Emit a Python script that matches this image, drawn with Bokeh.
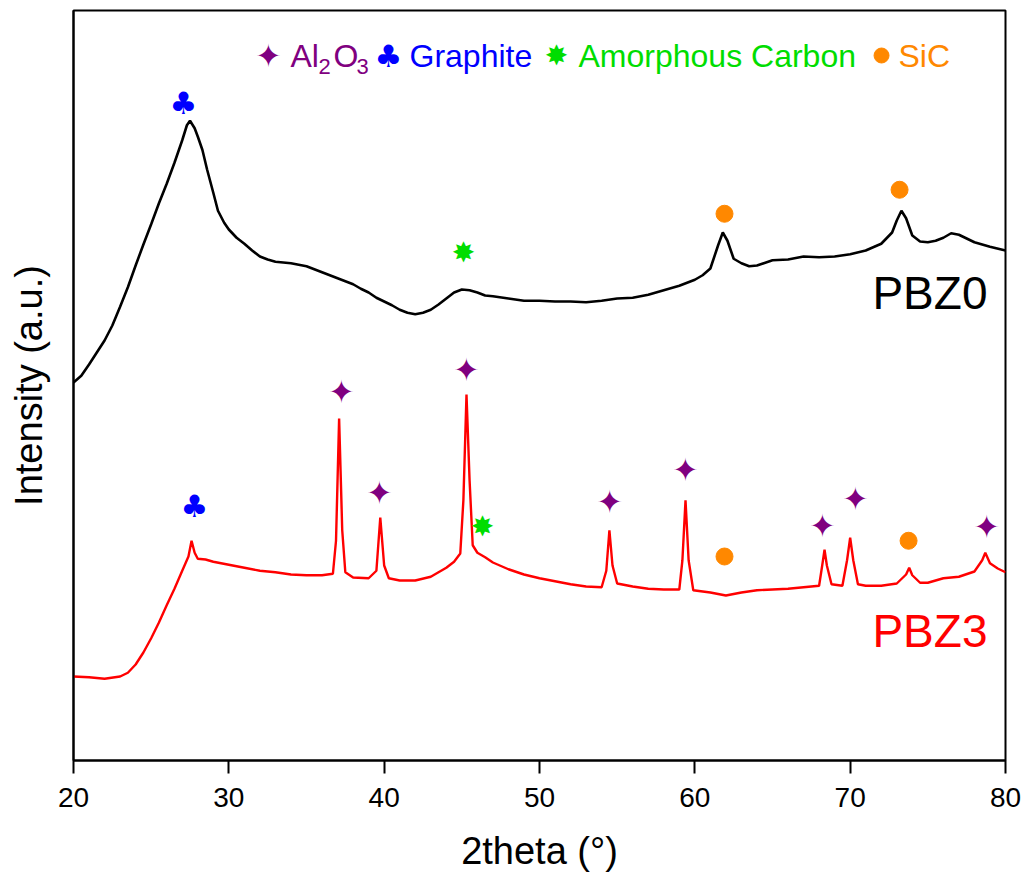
from bokeh.plotting import figure
from bokeh.models import Range1d, FixedTicker
from bokeh.core.properties import value
from bokeh.embed import file_html
from bokeh.resources import INLINE

# ---------------- data (2theta in degrees, intensity in a.u.) ----------------
pbz0_x = [20.0, 20.5, 21.0, 21.5, 22.0, 22.5, 23.0, 23.5, 24.0, 24.5, 25.0, 25.5, 26.0, 26.5,
          27.0, 27.3, 27.5, 27.8, 28.0, 28.3, 28.6, 29.0, 29.3, 29.7, 30.0, 30.5, 31.0, 31.5,
          32.0, 32.5, 33.0, 33.5, 34.0, 34.5, 35.0, 35.5, 36.0, 36.5, 37.0, 37.5, 38.0, 38.5,
          39.0, 39.5, 40.0, 40.5, 41.0, 41.5, 42.0, 42.5, 43.0, 43.5, 44.0, 44.5, 45.0, 45.5,
          46.0, 46.5, 47.0, 48.0, 49.0, 50.0, 51.0, 52.0, 53.0, 54.0, 55.0, 56.0, 57.0, 58.0,
          59.0, 60.0, 60.5, 61.0, 61.5, 61.8, 62.1, 62.5, 63.0, 63.5, 64.0, 65.0, 66.0, 67.0,
          68.0, 69.0, 70.0, 71.0, 72.0, 72.7, 73.0, 73.3, 73.6, 74.0, 74.5, 75.0, 75.5, 76.0,
          76.5, 77.0, 77.5, 78.0, 79.0, 80.0]
pbz0_y = [50.4, 51.3, 52.8, 54.4, 56.0, 58.0, 60.5, 63.1, 66.0, 68.8, 71.5, 74.3, 76.9, 79.7,
          82.7, 84.7, 85.3, 84.3, 83.2, 81.4, 78.8, 75.7, 73.3, 71.7, 70.8, 69.7, 68.9, 68.0,
          67.2, 66.8, 66.5, 66.4, 66.3, 66.1, 65.9, 65.5, 65.1, 64.7, 64.3, 63.9, 63.5, 62.9,
          62.4, 61.7, 61.2, 60.7, 60.1, 59.7, 59.5, 59.7, 60.1, 60.8, 61.6, 62.4, 62.8, 62.7,
          62.4, 62.0, 61.9, 61.6, 61.3, 61.3, 61.2, 61.2, 61.1, 61.3, 61.6, 61.7, 62.1, 62.7,
          63.3, 64.1, 64.7, 65.6, 68.7, 70.4, 69.3, 66.9, 66.3, 65.9, 66.0, 66.7, 66.8, 67.2,
          67.1, 67.2, 67.5, 68.0, 68.9, 70.4, 72.0, 73.3, 72.3, 70.0, 69.2, 69.1, 69.3, 69.7,
          70.3, 70.1, 69.6, 69.1, 68.5, 68.0]

pbz3_x = [20.0, 21.0, 22.0, 23.0, 23.5, 24.0, 24.5, 25.0, 25.5, 26.0, 26.5, 27.0, 27.4, 27.6,
          27.8, 28.0, 28.5, 29.0, 30.0, 31.0, 32.0, 33.0, 34.0, 35.0, 36.0, 36.7, 36.9, 37.1,
          37.3, 37.5, 38.0, 39.0, 39.5, 39.75, 40.0, 40.3, 41.0, 42.0, 43.0, 44.0, 44.5, 44.9,
          45.1, 45.3, 45.5, 45.7, 46.0, 46.5, 47.0, 48.0, 49.0, 50.0, 51.0, 52.0, 53.0, 54.0,
          54.3, 54.5, 54.7, 55.0, 56.0, 57.0, 58.0, 59.0, 59.2, 59.4, 59.6, 59.9, 61.0, 62.0,
          63.0, 64.0, 65.0, 66.0, 67.0, 68.0, 68.2, 68.35, 68.5, 68.8, 69.5, 69.8, 70.0, 70.2,
          70.5, 71.0, 72.0, 73.0, 73.6, 73.8, 74.0, 74.5, 75.0, 76.0, 77.0, 78.0, 78.5, 78.7,
          79.0, 79.5, 80.0]
pbz3_y = [11.2, 11.1, 10.9, 11.2, 11.7, 12.8, 14.4, 16.3, 18.4, 20.7, 22.9, 25.3, 27.2, 29.3,
          27.7, 26.9, 26.8, 26.5, 26.1, 25.7, 25.3, 25.1, 24.8, 24.7, 24.7, 24.9, 29.3, 45.6,
          30.7, 25.1, 24.4, 24.3, 25.3, 32.4, 26.0, 24.3, 24.0, 24.0, 24.5, 25.7, 26.5, 27.6,
          34.7, 48.8, 37.3, 28.7, 27.7, 27.1, 26.4, 25.5, 24.8, 24.3, 23.9, 23.5, 23.2, 23.1,
          25.3, 30.7, 26.0, 23.6, 23.2, 22.9, 22.8, 22.8, 26.7, 34.7, 26.7, 22.7, 22.4, 22.0,
          22.4, 22.7, 22.8, 22.9, 23.1, 23.3, 26.0, 28.1, 26.0, 23.5, 23.3, 26.7, 29.7, 26.7,
          23.5, 23.3, 23.3, 23.6, 24.8, 25.7, 24.7, 23.7, 23.7, 24.3, 24.5, 25.2, 26.7, 27.7,
          26.3, 25.6, 25.1]

# phase markers: peak position (2theta) and marker height (a.u.)
al2o3_x = [37.25, 39.70, 45.30, 54.51, 59.40, 68.22, 70.34, 78.78]
al2o3_y = [49.2, 35.7, 52.1, 34.5, 38.8, 31.3, 34.9, 31.2]
graphite_x = [27.08, 27.79]
graphite_y = [87.7, 34.0]
amorph_x = [45.11, 46.33]
amorph_y = [67.7, 31.2]
sic_x = [61.91, 73.18, 61.91, 73.76]
sic_y = [72.9, 76.1, 27.2, 29.3]

x_ticks = [20, 30, 40, 50, 60, 70, 80]
sample_names = ["PBZ0", "PBZ3"]

PURPLE = "#800080"
BLUE = "#0000FF"
GREEN = "#00DD00"
ORANGE = "#FF8800"
FONT = "Liberation Sans"

p = figure(width=1026, height=879, output_backend="svg", toolbar_location=None,
           x_range=Range1d(20, 80), y_range=Range1d(0, 100),
           min_border_left=73, min_border_right=21, min_border_top=10, min_border_bottom=119)
p.background_fill_color = "white"
p.border_fill_color = "white"
p.grid.visible = False
p.outline_line_color = "black"
p.outline_line_width = 2

# axes
p.xaxis.ticker = FixedTicker(ticks=x_ticks)
p.xaxis.minor_tick_line_color = None
p.xaxis.major_tick_in = 0
p.xaxis.major_tick_out = 13
p.xaxis.major_tick_line_width = 2
p.xaxis.axis_line_width = 2
p.xaxis.major_label_text_font = FONT
p.xaxis.major_label_text_font_size = "28px"
p.xaxis.major_label_text_color = "black"
p.xaxis.major_label_standoff = 14
p.xaxis.axis_label = "2theta (°)"
p.xaxis.axis_label_text_font = FONT
p.xaxis.axis_label_text_font_size = "38px"
p.xaxis.axis_label_text_font_style = "normal"
p.xaxis.axis_label_text_color = "black"
p.xaxis.axis_label_standoff = 20

p.yaxis.ticker = FixedTicker(ticks=[])
p.yaxis.minor_tick_line_color = None
p.yaxis.major_tick_line_color = None
p.yaxis.axis_line_width = 2
p.yaxis.major_label_text_font_size = "0px"
p.yaxis.axis_label = "Intensity (a.u.)"
p.yaxis.axis_label_text_font = FONT
p.yaxis.axis_label_text_font_size = "38px"
p.yaxis.axis_label_text_font_style = "normal"
p.yaxis.axis_label_text_color = "black"
p.yaxis.axis_label_standoff = 24

# curves
p.line(pbz0_x, pbz0_y, line_color="black", line_width=2.6)
p.line(pbz3_x, pbz3_y, line_color="red", line_width=2.4)

# sample labels
p.text(x=[78.84], y=[62.3], text=[sample_names[0]], text_color="black",
       text_font=value(FONT), text_font_size="46px", text_align="right",
       text_baseline="middle")
p.text(x=[78.84], y=[17.3], text=[sample_names[1]], text_color="red",
       text_font=value(FONT), text_font_size="46px", text_align="right",
       text_baseline="middle")

SYM = value("DejaVu Sans")
# phase markers on curves
p.text(x=al2o3_x, y=al2o3_y, text=["\u2726"] * len(al2o3_x), text_color=PURPLE,
       text_font=SYM, text_font_size="32px", text_align="center", text_baseline="middle")
p.text(x=graphite_x, y=graphite_y, text=["\u2663"] * len(graphite_x), text_color=BLUE,
       text_font=SYM, text_font_size="31px", text_align="center", text_baseline="middle")
p.text(x=amorph_x, y=amorph_y, text=["\u2738"] * len(amorph_x), text_color=GREEN,
       text_font=SYM, text_font_size="28px", text_align="center", text_baseline="middle")
p.scatter(x=sic_x, y=sic_y, marker="circle", size=17, fill_color=ORANGE, line_color=ORANGE)

# legend (placed in data space along the top of the frame)
LM = 94.0     # text / symbol centre
LS = 92.5     # subscript centre
p.text(x=[32.55], y=[LM], text=["\u2726"], text_color=PURPLE, text_font=SYM,
       text_font_size="32px", text_align="center", text_baseline="middle")
p.text(x=[33.97, 36.74], y=[LM, LM], text=["Al", "O"], text_color=PURPLE,
       text_font=value(FONT), text_font_size="32px", text_align="left", text_baseline="middle")
p.text(x=[35.77, 38.22], y=[LS, LS], text=["2", "3"], text_color=PURPLE,
       text_font=value(FONT), text_font_size="22px", text_align="left", text_baseline="middle")
p.text(x=[40.28], y=[LM], text=["\u2663"], text_color=BLUE, text_font=SYM,
       text_font_size="31px", text_align="center", text_baseline="middle")
p.text(x=[41.63], y=[LM], text=["Graphite"], text_color=BLUE,
       text_font=value(FONT), text_font_size="32px", text_align="left", text_baseline="middle")
p.text(x=[51.10], y=[LM], text=["\u2738"], text_color=GREEN, text_font=SYM,
       text_font_size="28px", text_align="center", text_baseline="middle")
p.text(x=[52.51], y=[LM], text=["Amorphous Carbon"], text_color=GREEN,
       text_font=value(FONT), text_font_size="32px", text_align="left", text_baseline="middle")
p.scatter(x=[72.02], y=[LM], marker="circle", size=15, fill_color=ORANGE, line_color=ORANGE)
p.text(x=[73.11], y=[LM], text=["SiC"], text_color=ORANGE,
       text_font=value(FONT), text_font_size="32px", text_align="left", text_baseline="middle")

open("out.html", "w").write(file_html(p, INLINE))
